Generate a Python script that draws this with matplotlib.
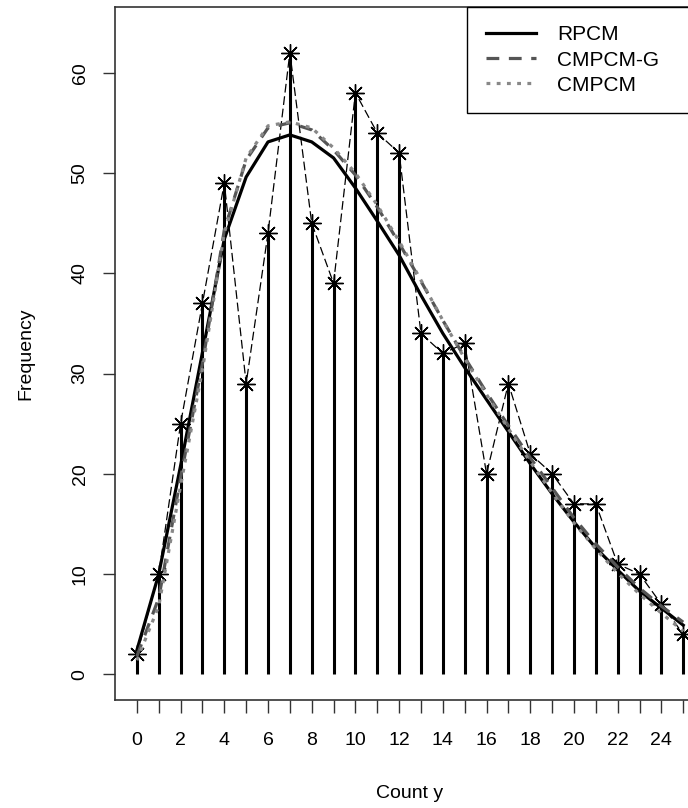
import numpy as np
import matplotlib
matplotlib.use('Agg')
import matplotlib.pyplot as plt

plt.rcParams['font.family'] = ['Liberation Sans', 'DejaVu Sans']

# counts y = 0..25
y = list(range(26))
observed = [2, 10, 25, 37, 49, 29, 44, 62, 45, 39, 58, 54, 52, 34, 32, 33,
            20, 29, 22, 20, 17, 17, 11, 10, 7, 4]
# fitted frequencies
rpcm = [2.4, 10.0, 20.8, 32.1, 43.4, 49.6, 53.1, 53.8, 53.1, 51.5, 48.5, 45.2, 41.8,
        37.8, 34.0, 30.6, 27.4, 24.2, 21.0, 18.0, 15.2, 12.6, 10.4, 8.3, 6.6, 4.9]
cmpcm_g = [1.8, 7.6, 19.6, 31.0, 44.3, 51.3, 54.5, 55.0, 54.3, 52.3, 49.8, 46.6, 43.0,
           39.2, 35.3, 31.6, 28.1, 24.8, 21.6, 18.6, 15.6, 13.0, 10.7, 8.6, 6.8, 5.2]
cmpcm = [1.4, 6.8, 18.8, 30.4, 44.0, 51.5, 54.7, 55.1, 54.5, 52.5, 50.0, 46.8, 43.2,
         39.3, 35.3, 31.5, 27.9, 24.5, 21.2, 18.1, 15.1, 12.5, 10.1, 8.0, 6.1, 4.3]

fig = plt.figure(figsize=(6.88, 8.08), dpi=100)
ax = fig.add_axes([0.1672, 0.1337, 0.8576, 0.8577])

# observed: vertical lines + asterisks joined by thin dashed line
ax.vlines(y, 0, observed, color='black', lw=2.2)
ax.plot(y, observed, color='black', lw=0.9, ls=(0, (7, 3)),
        marker=(8, 2, 0), ms=13, mew=1.0)

ax.plot(y, rpcm, color='black', lw=2.3, label='RPCM')
ax.plot(y, cmpcm_g, color='#555555', lw=2.3, ls=(0, (4, 3)), label='CMPCM-G')
ax.plot(y, cmpcm, color='#888888', lw=2.3, ls=(0, (1.2, 2)), label='CMPCM')

ax.set_xlim(-1, 26)
ax.set_ylim(-2.56, 66.56)
ax.set_xticks(y)
ax.set_xticklabels([str(v) if v % 2 == 0 else '' for v in y])
ax.set_yticks(range(0, 61, 10))
ax.tick_params(axis='both', labelsize=14, length=9, width=1.0, color='#333333')
ax.tick_params(axis='x', pad=14)
ax.tick_params(axis='y', pad=10, labelrotation=90)
for lab in ax.get_yticklabels():
    lab.set_va('center')

for sp in ax.spines.values():
    sp.set_linewidth(1.2)
    sp.set_color('#333333')

ax.set_xlabel('Count y', fontsize=14, labelpad=26)
ax.set_ylabel('Frequency', fontsize=14, labelpad=27)

leg = ax.legend(loc='upper right', bbox_to_anchor=(0.5966, 0.8, 0.4034, 0.2),
                mode='expand', borderaxespad=0,
                fancybox=False, edgecolor='black', framealpha=1, fontsize=15,
                handlelength=2.4, handletextpad=1.05, labelspacing=0.29,
                borderpad=0.89)
leg.get_frame().set_linewidth(1.0)

fig.savefig('out.png', dpi=100)
